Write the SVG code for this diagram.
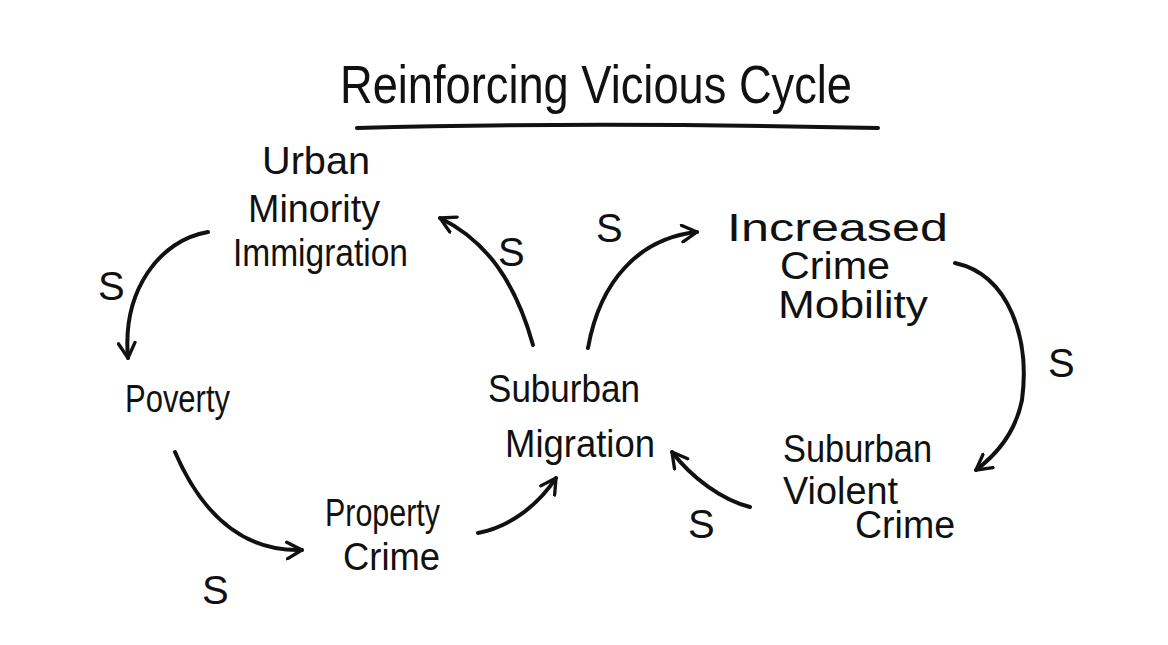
<svg xmlns="http://www.w3.org/2000/svg" width="1168" height="645" viewBox="0 0 1168 645">
<style>
text{font-family:"Liberation Sans","DejaVu Sans",sans-serif;fill:#111;}
.lbl{font-size:38px;}
.s{font-size:40px;}
.c{fill:none;stroke:#111;stroke-width:4;stroke-linecap:round;}
</style>
<defs>
<marker id="ah" viewBox="0 0 12 12" refX="10" refY="6" markerWidth="5" markerHeight="5" orient="auto" markerUnits="strokeWidth">
<path d="M1,1 L10,6 L1,11" fill="none" stroke="#111" stroke-width="2" stroke-linecap="round" stroke-linejoin="round"/>
</marker>
</defs>
<rect width="1168" height="645" fill="#fff"/>
<g id="title">
<text x="340" y="103" font-size="54" textLength="512" lengthAdjust="spacingAndGlyphs">Reinforcing Vicious Cycle</text>
<path class="c" d="M357,128 C500,124 700,124 878,128" stroke-width="3"/>
</g>
<g id="urban">
<text class="lbl" x="262" y="174" textLength="108" lengthAdjust="spacingAndGlyphs">Urban</text>
<text class="lbl" x="248" y="222" textLength="132" lengthAdjust="spacingAndGlyphs">Minority</text>
<text class="lbl" x="233" y="266" textLength="175" lengthAdjust="spacingAndGlyphs">Immigration</text>
</g>
<g id="poverty">
<text class="lbl" x="125" y="412" textLength="105" lengthAdjust="spacingAndGlyphs">Poverty</text>
</g>
<g id="property">
<text class="lbl" x="325" y="526" font-size="34" textLength="115" lengthAdjust="spacingAndGlyphs">Property</text>
<text class="lbl" x="343" y="570" textLength="97" lengthAdjust="spacingAndGlyphs">Crime</text>
</g>
<g id="suburban-migration">
<text class="lbl" x="488" y="402" textLength="152" lengthAdjust="spacingAndGlyphs">Suburban</text>
<text class="lbl" x="505" y="457" textLength="150" lengthAdjust="spacingAndGlyphs">Migration</text>
</g>
<g id="increased">
<text class="lbl" x="727" y="241" font-size="38" textLength="221" lengthAdjust="spacingAndGlyphs">Increased</text>
<text class="lbl" x="780" y="279" font-size="32" textLength="110" lengthAdjust="spacingAndGlyphs">Crime</text>
<text class="lbl" x="778" y="318" textLength="150" lengthAdjust="spacingAndGlyphs">Mobility</text>
</g>
<g id="violent">
<text class="lbl" x="783" y="462" textLength="149" lengthAdjust="spacingAndGlyphs">Suburban</text>
<text class="lbl" x="783" y="504" textLength="115" lengthAdjust="spacingAndGlyphs">Violent</text>
<text class="lbl" x="855" y="538" textLength="100" lengthAdjust="spacingAndGlyphs">Crime</text>
</g>
<g id="connectors">
<path class="c" marker-end="url(#ah)" d="M208,232 C160,240 122,290 128,358"/>
<path class="c" marker-end="url(#ah)" d="M175,452 C200,510 240,552 302,550"/>
<path class="c" marker-end="url(#ah)" d="M478,533 C510,527 538,505 556,478"/>
<path class="c" marker-end="url(#ah)" d="M533,345 C515,280 485,240 440,218"/>
<path class="c" marker-end="url(#ah)" d="M588,348 C600,280 640,238 697,232"/>
<path class="c" marker-end="url(#ah)" d="M955,263 C1010,275 1030,340 1022,400 C1016,430 1000,452 976,470"/>
<path class="c" marker-end="url(#ah)" d="M750,507 C722,500 692,478 672,452"/>
<text class="s" x="98" y="300">S</text>
<text class="s" x="202" y="604">S</text>
<text class="s" x="498" y="266">S</text>
<text class="s" x="596" y="242">S</text>
<text class="s" x="1048" y="377">S</text>
<text class="s" x="688" y="538">S</text>
</g>
</svg>
